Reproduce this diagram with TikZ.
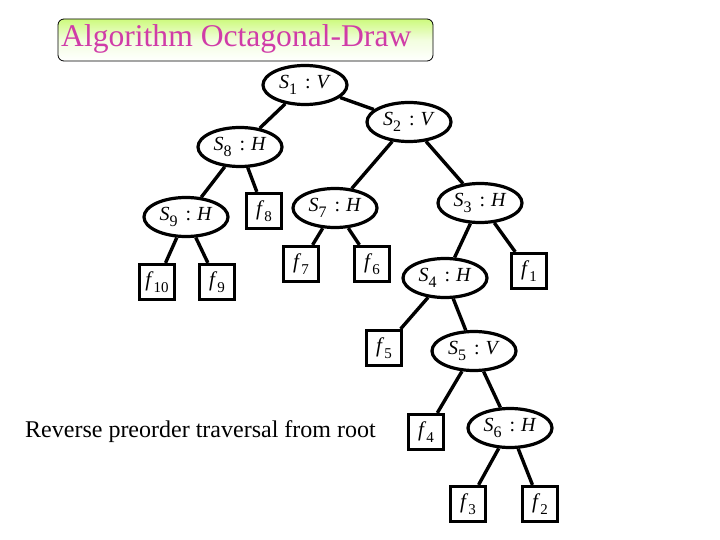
\documentclass[tikz,border=0pt]{standalone}
\usepackage{fontspec}
\setmainfont{Liberation Serif}
\definecolor{titlemag}{RGB}{208,60,168}
\definecolor{titlegreen}{RGB}{205,250,125}
\newcommand\sublbl[2]{\raisebox{-0.6ex}{\fontsize{#1}{#1}\selectfont #2}}
\newcommand\snode[3]{\textit{S}\sublbl{16}{#2}\hspace{8pt}:\hspace{6pt}\textit{#3}}
\newcommand\fnode[1]{\textit{f}\sublbl{15}{#1}}
\tikzset{
  snd/.style={draw, line width=3.2pt, ellipse, minimum width=84pt, minimum height=39pt, inner sep=0pt, font=\fontsize{20}{20}\selectfont},
  fnd/.style={draw, line width=3.2pt, rectangle, minimum width=35pt, minimum height=35pt, inner sep=0pt, font=\fontsize{21}{21}\selectfont},
  edge/.style={line width=3.4pt}
}
\usetikzlibrary{shapes.geometric}
\begin{document}
\begin{tikzpicture}[x=1pt,y=-1pt]
\useasboundingbox (0,0) rectangle (720,540);
% title
\node[draw, line width=0.8pt, rounded corners=6pt, minimum width=375pt, minimum height=42pt,
  top color=titlegreen, bottom color=white, middle color=titlegreen!25, inner sep=0pt] (title) at (245.5,40) {};
\node[anchor=west, text=titlemag, font=\fontsize{31.6}{32}\selectfont, inner sep=0pt] (ttext) at (61,39) {Algorithm Octagonal-Draw};
% nodes
\node[snd] (s1) at (305,85) {\snode{S}{1}{V}};
\node[snd] (s2) at (409,122) {\snode{S}{2}{V}};
\node[snd] (s8) at (240,147) {\snode{S}{8}{H}};
\node[snd] (s9) at (186,217) {\snode{S}{9}{H}};
\node[fnd] (f8) at (264,211) {\fnode{8}};
\node[snd] (s7) at (335,208) {\snode{S}{7}{H}};
\node[snd] (s3) at (480,203) {\snode{S}{3}{H}};
\node[fnd] (f7) at (301,264) {\fnode{7}};
\node[fnd] (f6) at (372,264) {\fnode{6}};
\node[snd] (s4) at (445,278) {\snode{S}{4}{H}};
\node[fnd] (f1) at (529,271) {\fnode{1}};
\node[fnd] (f10) at (157,282) {\fnode{10}};
\node[fnd] (f9) at (217,282) {\fnode{9}};
\node[fnd] (f5) at (384,348) {\fnode{5}};
\node[snd] (s5) at (474,351) {\snode{S}{5}{V}};
\node[fnd] (f4) at (426,432) {\fnode{4}};
\node[snd] (s6) at (510,428) {\snode{S}{6}{H}};
\node[fnd] (f3) at (468,504) {\fnode{3}};
\node[fnd] (f2) at (540,504) {\fnode{2}};
% caption
\node[anchor=west, font=\fontsize{24}{24}\selectfont, inner sep=0pt] (cap) at (25,432) {Reverse preorder traversal from root};
% edges
\draw[edge] (s1) -- (s8);
\draw[edge] (s1) -- (s2);
\draw[edge] (s2) -- (s7);
\draw[edge] (s2) -- (s3);
\draw[edge] (s8) -- (s9);
\draw[edge] (s8) -- (f8);
\draw[edge] (s9) -- (f10);
\draw[edge] (s9) -- (f9);
\draw[edge] (s7) -- (f7);
\draw[edge] (s7) -- (f6);
\draw[edge] (s3) -- (s4);
\draw[edge] (s3) -- (f1);
\draw[edge] (s4) -- (f5);
\draw[edge] (s4) -- (s5);
\draw[edge] (s5) -- (f4);
\draw[edge] (s5) -- (s6);
\draw[edge] (s6) -- (f3);
\draw[edge] (s6) -- (f2);
\end{tikzpicture}
\end{document}
